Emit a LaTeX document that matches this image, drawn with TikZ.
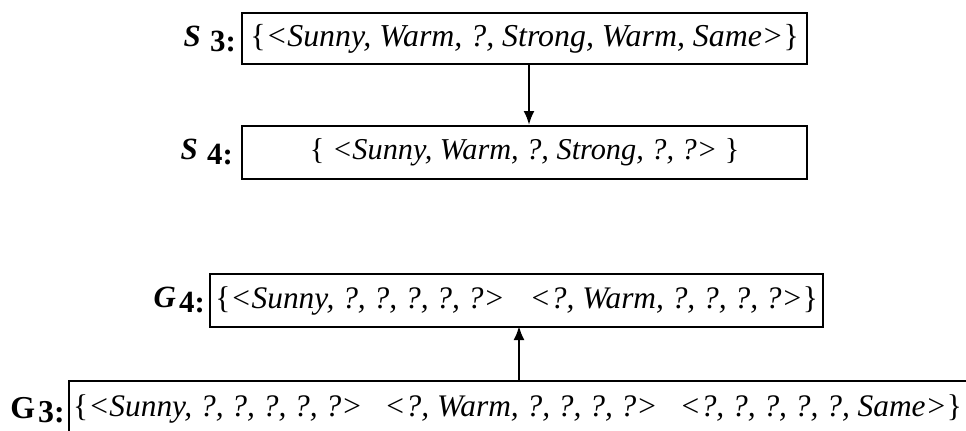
\documentclass[tikz,border=0pt]{standalone}
\usepackage{fontspec}
\setmainfont{Liberation Serif}
\usetikzlibrary{arrows.meta}
\newcommand{\lb}{\textup{\{}}
\newcommand{\rb}{\textup{\}}}
\begin{document}
\begin{tikzpicture}[x=1bp,y=-1bp,
  hbox/.style={draw,line width=2.3bp,inner sep=0pt,anchor=north west},
  htext/.style={font=\fontsize{#1}{34}\selectfont\itshape,inner sep=0pt},
  lbl/.style={font=\fontsize{31}{34}\selectfont\bfseries,inner sep=0pt,anchor=east},
  arr/.style={line width=2.3bp,-{Latex[length=14bp,width=11bp]}}]
\useasboundingbox (0,0) rectangle (966,430);
\clip (0,0) rectangle (966,430);
% S3
\node[hbox,minimum width=565bp,minimum height=51bp] (s3) at (241,12) {};
\node[htext=32] (s3t) at (s3.center) {\lb<Sunny, Warm, ?, Strong, Warm, Same>\rb};
\node[lbl] (s3l) at (236,39) {\textit{S}\hspace{0.3em}\raisebox{-0.3ex}{3:}};
% S4
\node[hbox,minimum width=565bp,minimum height=53bp] (s4) at (241,125) {};
\node[htext=30.4] (s4t) at (s4.center) {\lb\ <Sunny, Warm, ?, Strong, ?, ?>\ \rb};
\node[lbl] (s4l) at (233,152) {\textit{S}\hspace{0.3em}\raisebox{-0.3ex}{4:}};
% G4
\node[hbox,minimum width=613bp,minimum height=53bp] (g4) at (209,273) {};
\node[htext=31.5] (g4t) at (g4.center) {\lb<Sunny, ?, ?, ?, ?, ?>\hspace{25bp}<?, Warm, ?, ?, ?, ?>\rb};
\node[lbl] (g4l) at (205,300) {\textit{G}\hspace{0.1em}\raisebox{-0.3ex}{4:}};
% G3
\node[hbox,minimum width=904bp,minimum height=56bp] (g3) at (68,380) {};
\node[htext=31.5,anchor=west] (g3t) at (73,409) {\lb<Sunny, ?, ?, ?, ?, ?>\hspace{22bp}<?, Warm, ?, ?, ?, ?>\hspace{22bp}<?, ?, ?, ?, ?, Same>\rb};
\node[lbl,font=\fontsize{32}{34}\selectfont\bfseries] (g3l) at (65,410) {G\hspace{0.1em}\raisebox{-0.3ex}{3:}};
% arrows
\coordinate (a1) at (529,63);
\coordinate (a2) at (529,125);
\draw[arr] (a1) -- (a2);
\coordinate (b1) at (519,380);
\coordinate (b2) at (519,326);
\draw[arr] (b1) -- (b2);
\end{tikzpicture}
\end{document}
